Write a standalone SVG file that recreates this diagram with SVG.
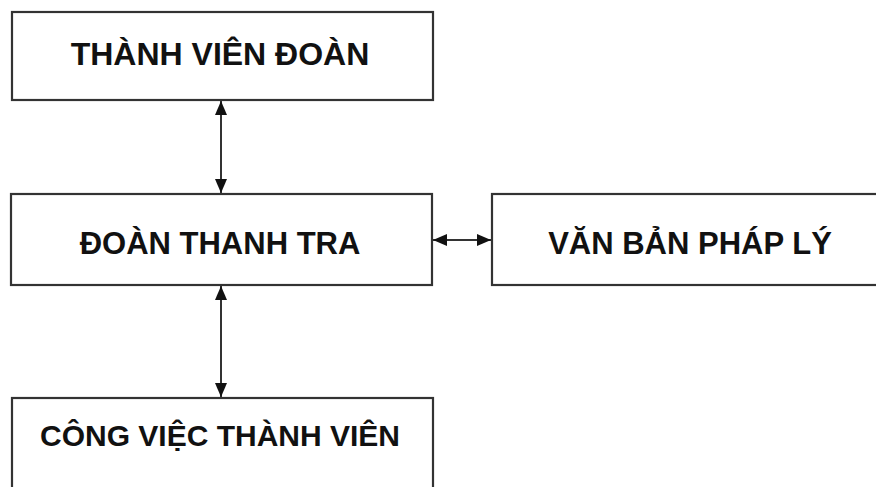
<svg xmlns="http://www.w3.org/2000/svg" width="876" height="487" viewBox="0 0 876 487">
<defs>
<style>
.box{fill:#fff;stroke:#333;stroke-width:2.2}
.t{font-family:"Liberation Sans",Arial,sans-serif;font-weight:bold;font-size:31px;fill:#111;text-anchor:middle}
.c{stroke:#333;stroke-width:2;fill:none;marker-start:url(#ah);marker-end:url(#ah)}
</style>
<marker id="ah" viewBox="0 0 14 12" refX="14" refY="6" markerWidth="14" markerHeight="12" markerUnits="userSpaceOnUse" orient="auto-start-reverse">
<path d="M0,0 L14,6 L0,12 Z" fill="#111"/>
</marker>
</defs>
<rect width="876" height="487" fill="#fff"/>
<g id="connectors">
<line class="c" x1="221" y1="101" x2="221" y2="193"/>
<line class="c" x1="221" y1="286" x2="221" y2="397"/>
<line class="c" x1="433" y1="240" x2="491" y2="240"/>
</g>
<g id="thanh-vien-doan">
<rect class="box" x="12" y="12" width="421" height="88"/>
<text class="t" x="220" y="65" style="font-size:32px">THÀNH VIÊN ĐOÀN</text>
</g>
<g id="doan-thanh-tra">
<rect class="box" x="11" y="194" width="421" height="91"/>
<text class="t" x="220" y="254">ĐOÀN THANH TRA</text>
</g>
<g id="van-ban-phap-ly">
<rect class="box" x="492" y="194" width="400" height="91"/>
<text class="t" x="690" y="254">VĂN BẢN PHÁP LÝ</text>
</g>
<g id="cong-viec-thanh-vien">
<rect class="box" x="12" y="398" width="421" height="100"/>
<text class="t" x="220" y="446" style="font-size:30px">CÔNG VIỆC THÀNH VIÊN</text>
</g>
</svg>
